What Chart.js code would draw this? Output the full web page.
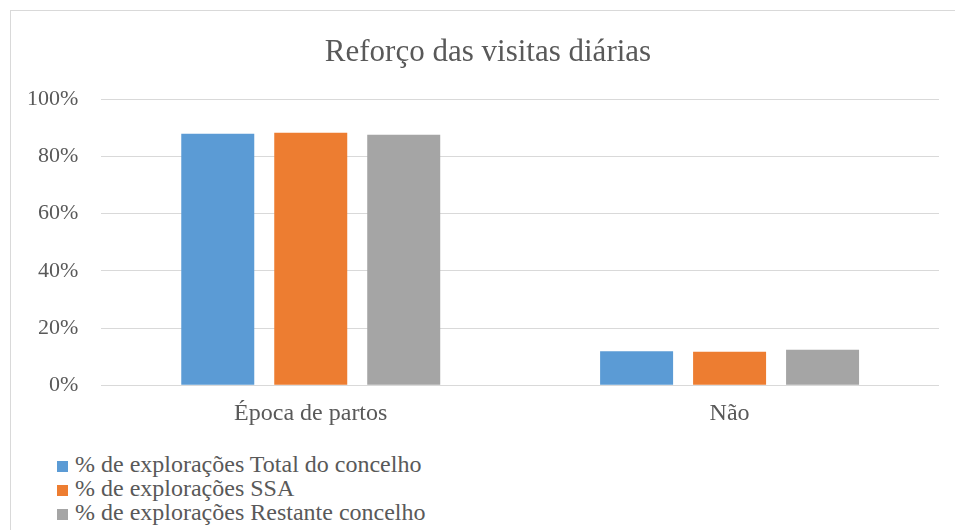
<!DOCTYPE html>
<html>
<head>
<meta charset="utf-8">
<script src="https://cdn.jsdelivr.net/npm/chart.js@4"></script>
<style>
  body { margin: 0; background: #fff; }
  #frame { position: absolute; left: 10px; top: 10px; width: 945px; height: 520px;
    border-left: 1px solid #d9d9d9; border-top: 1px solid #d9d9d9; }
  #wrap { position: absolute; left: 0; top: 0; width: 955px; height: 450px; }
  #legend { position: absolute; left: 57px; top: 452px; font-family: "Liberation Serif", serif;
    font-size: 24px; color: #595959; }
  .row { height: 24px; line-height: 24px; white-space: nowrap; }
  .box { display: inline-block; width: 11px; height: 11px; margin-right: 7px; }
</style>
</head>
<body>
<div id="frame"></div>
<div id="wrap"><canvas id="canvas"></canvas></div>
<div id="legend"></div>
<script>
const categories = ["Época de partos", "Não"];
const totalConcelho = [87.9, 11.9];
const ssa = [88.3, 11.7];
const restanteConcelho = [87.6, 12.4];
const yTicks = [0, 20, 40, 60, 80, 100];

const seriesNames = [
  "% de explorações Total do concelho",
  "% de explorações SSA",
  "% de explorações Restante concelho",
];
const colors = ["#5B9BD5", "#ED7D31", "#A5A5A5"];
const textColor = "#595959";
const font = "'Liberation Serif', 'Times New Roman', serif";

let allSeries = [totalConcelho, ssa, restanteConcelho];

// title sits a little right of the canvas centre in the original
const shiftTitle = {
  id: "shiftTitle",
  afterLayout(chart) {
    if (chart.titleBlock) chart.titleBlock.left = 37;
  },
};

const ctx = document.getElementById("canvas").getContext("2d");
const myChart = new Chart(ctx, {
  type: "bar",
  data: {
    labels: categories,
    datasets: allSeries.map(function (vals, i) {
      return {
        label: seriesNames[i],
        data: vals,
        backgroundColor: colors[i],
        borderWidth: 0,
        categoryPercentage: 0.666,
        barPercentage: 0.785,
      };
    }),
  },
  options: {
    responsive: true,
    maintainAspectRatio: false,
    animation: false,
    layout: { padding: { left: 4, right: 16, top: 0, bottom: 16 } },
    plugins: {
      legend: { display: false },
      tooltip: { enabled: false },
      title: {
        display: true,
        text: "Reforço das visitas diárias",
        color: textColor,
        font: { family: font, size: 31, weight: "normal" },
        padding: { top: 34, bottom: 28 },
      },
    },
    scales: {
      x: {
        grid: { display: false },
        border: { display: false },
        ticks: { color: textColor, font: { family: font, size: 24 }, padding: 6 },
      },
      y: {
        min: 0,
        max: 100,
        afterBuildTicks: function (axis) {
          axis.ticks = yTicks.map(function (v) { return { value: v }; });
        },
        grid: { color: "#d9d9d9", drawTicks: false },
        border: { display: false },
        ticks: {
          color: textColor,
          font: { family: font, size: 22 },
          padding: 23,
          callback: function (v) { return v + "%"; },
        },
      },
    },
  },
  plugins: [shiftTitle],
});

let legend = document.getElementById("legend");
seriesNames.forEach(function (name, i) {
  let row = document.createElement("div");
  row.className = "row";
  row.innerHTML = `<span class="box" style="background:${colors[i]}"></span>${name}`;
  legend.appendChild(row);
});
</script>
</body>
</html>
